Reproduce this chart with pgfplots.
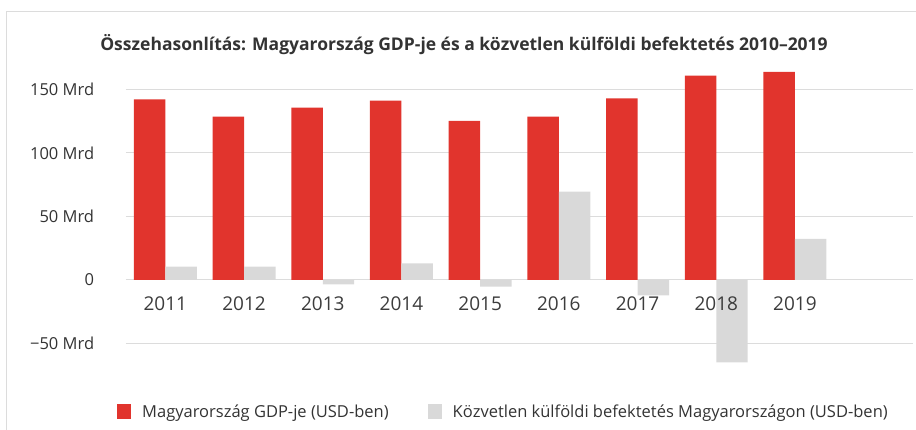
\documentclass[border=0pt]{standalone}
\usepackage{pgfplots}
\pgfplotsset{compat=1.18}
\usepackage{fontspec}
\setmainfont{Open Sans}
\definecolor{redbar}{HTML}{E1342D}
\definecolor{graybar}{HTML}{D9D9D9}
\definecolor{gridc}{HTML}{DCDCDC}
\definecolor{txt}{HTML}{333333}
\definecolor{txtl}{HTML}{3C3C3C}
\begin{document}
\begin{tikzpicture}
\begin{axis}[
  scale only axis, width=787pt, height=317.5pt,
  xmin=-0.5, xmax=9.5, ymin=-75, ymax=175,
  axis line style={draw=none},
  major tick length=0pt,
  ytick={-50,0,50,100,150},
  yticklabels={−50 Mrd,0,50 Mrd,100 Mrd,150 Mrd},
  xtick=\empty,
  ymajorgrids, grid style={gridc, line width=1pt},
  yticklabel style={anchor=east, inner sep=0pt, xshift=-31.7pt, font=\fontsize{16.5}{20}\selectfont, text=txt},
  title={Összehasonlítás: Magyarország GDP-je és a közvetlen külföldi befektetés 2010–2019},
  title style={at={(axis description cs:0.4295,1.0033)}, anchor=base, inner sep=0pt, font=\bfseries\fontsize{17.5}{20}\selectfont, text=txt},
  legend style={draw=none, fill=none, legend columns=2, anchor=west, at={(axis description cs:-0.0114,-0.114)}, inner sep=0pt, font=\fontsize{16.5}{18}\selectfont, text=txt,
    /tikz/every odd column/.append style={column sep=9pt},
    /tikz/every even column/.append style={column sep=37pt}},
  legend image code/.code={\fill[#1] (0pt,-7.5pt) rectangle (14pt,7.5pt);},
]
\addplot[ybar, bar width=0.4, bar shift=-0.2, fill=redbar, draw=none] coordinates {
  (0,142.3) (1,128.6) (2,135.7) (3,141.2) (4,125.2) (5,128.6) (6,143.0) (7,160.9) (8,163.8)};
\addlegendentry{Magyarország GDP-je (USD-ben)}
\addplot[ybar, bar width=0.4, bar shift=0.2, fill=graybar, draw=none] coordinates {
  (0,10.5) (1,10.5) (2,-3.4) (3,13.1) (4,-5.3) (5,69.5) (6,-12.1) (7,-64.8) (8,32.3)};
\addlegendentry{Közvetlen külföldi befektetés Magyarországon (USD-ben)}
\pgfplotsinvokeforeach{0,...,8}{
  \node[anchor=base, inner sep=0pt, font=\fontsize{19}{22}\selectfont, text=txtl] at (axis cs:#1,0) [yshift=-31pt] {\the\numexpr2011+#1\relax};
}
\end{axis}
\draw[gridc, line width=1pt] (-119pt,-80pt) -- (-119pt,363.25pt) -- (820pt,363.25pt);
\pgfresetboundingbox
\useasboundingbox (-126pt,-54.75pt) rectangle (790pt,375.25pt);
\end{tikzpicture}
\end{document}
